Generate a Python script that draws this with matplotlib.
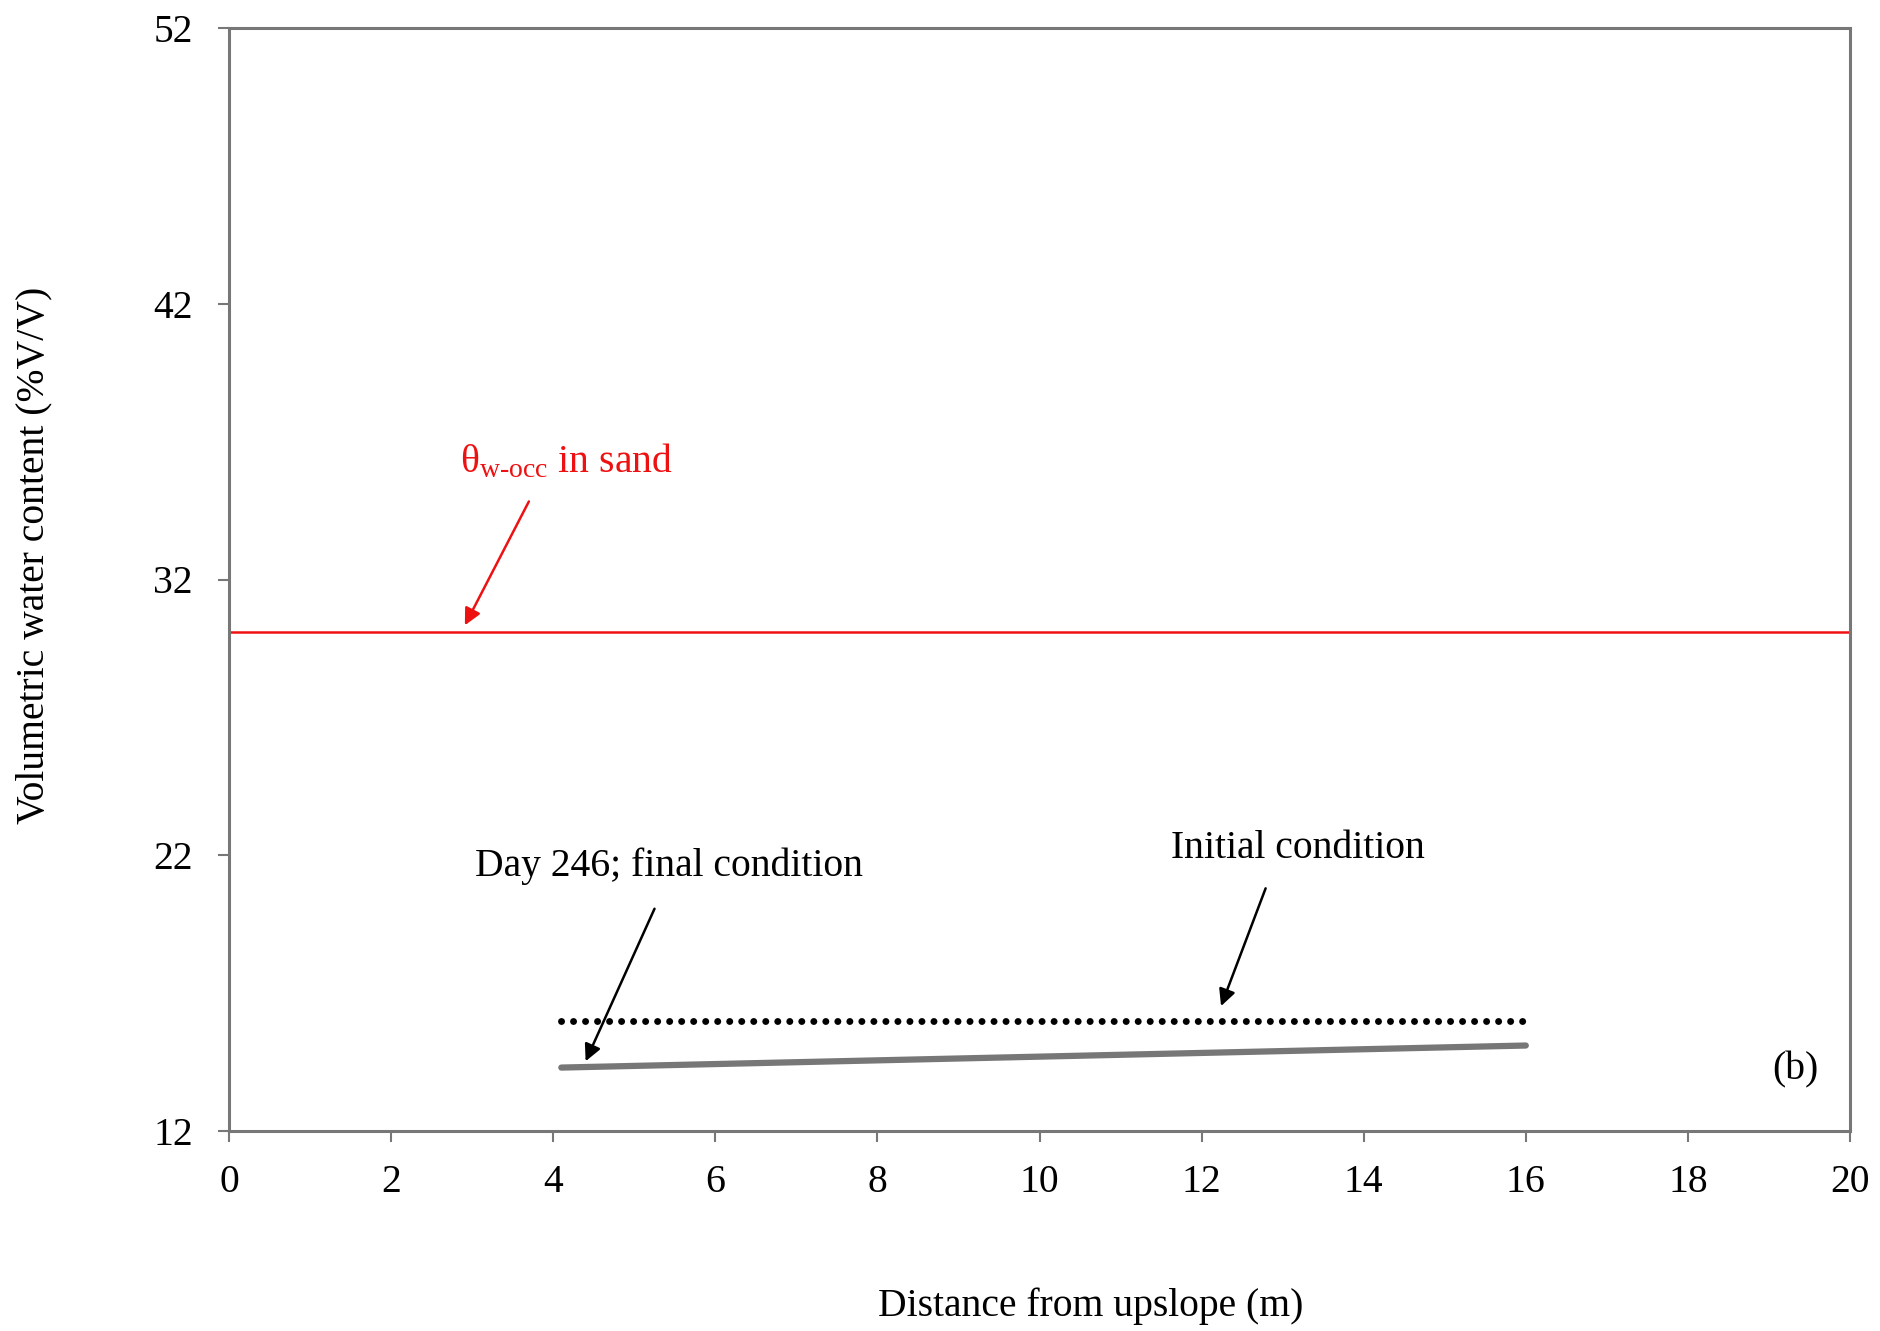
import matplotlib
matplotlib.use("Agg")
import matplotlib.pyplot as plt

# Data
x_initial = [4.1, 16.0]
y_initial = [16.0, 16.0]
x_final = [4.1, 16.0]
y_final = [14.3, 15.1]
theta_occ_sand = 30.1
x_ticks = [0, 2, 4, 6, 8, 10, 12, 14, 16, 18, 20]
y_ticks = [12, 22, 32, 42, 52]

plt.rcParams['font.family'] = ['Liberation Serif', 'DejaVu Serif']
plt.rcParams['mathtext.fontset'] = 'custom'
plt.rcParams['mathtext.rm'] = 'Liberation Serif'
plt.rcParams['mathtext.it'] = 'Liberation Serif:italic'

fig = plt.figure(figsize=(18.81, 13.31), dpi=100)
ax = fig.add_axes([229/1881, 1 - 1131/1331, (1850-229)/1881, (1131-28)/1331])

ax.axhline(theta_occ_sand, color='#ee1111', lw=1.8)
ax.plot(x_final, y_final, color='#777777', lw=4.5, solid_capstyle='round')
ax.plot(x_initial, y_initial, color='black', lw=5.0,
        linestyle=(0, (0.01, 1.72)), dash_capstyle='round')

ax.set_xlim(0, 20)
ax.set_ylim(12, 52)
ax.set_xticks(x_ticks)
ax.set_yticks(y_ticks)
ax.tick_params(direction='out', length=8, width=1.5, color='#777777',
               labelsize=28.5)
ax.tick_params(axis='x', pad=16)
ax.tick_params(axis='y', pad=18)
for s in ax.spines.values():
    s.set_color('#777777')
    s.set_linewidth(2.2)

fs = 28.5
ax.annotate('', xy=(2.91, 30.34), xytext=(3.70, 34.83),
            arrowprops=dict(arrowstyle='-|>', color='#ee1111', lw=1.8,
                            mutation_scale=25, shrinkA=0, shrinkB=0))
ax.text(2.85, 36.27, r'θ$_{\rm w\text{-}occ}$ in sand', color='#ee1111',
        fontsize=fs, va='center', ha='left')

ax.annotate('', xy=(4.40, 14.53), xytext=(5.25, 20.06),
            arrowprops=dict(arrowstyle='-|>', color='black', lw=1.8,
                            mutation_scale=25, shrinkA=0, shrinkB=0))
ax.text(3.03, 21.59, 'Day 246; final condition', fontsize=fs,
        va='center', ha='left')

ax.annotate('', xy=(12.24, 16.53), xytext=(12.79, 20.80),
            arrowprops=dict(arrowstyle='-|>', color='black', lw=1.8,
                            mutation_scale=25, shrinkA=0, shrinkB=0))
ax.text(11.62, 22.24, 'Initial condition', fontsize=fs,
        va='center', ha='left')

ax.text(19.33, 14.22, '(b)', fontsize=fs, va='center', ha='center')

fig.text(909*1.2/1881, 1 - 1306/1331, 'Distance from upslope (m)',
         fontsize=fs, ha='center', va='center')
fig.text(34/1881, 1 - 555/1331, 'Volumetric water content (%V/V)',
         fontsize=fs, ha='center', va='center', rotation=90)

fig.savefig('out.png', dpi=100)
